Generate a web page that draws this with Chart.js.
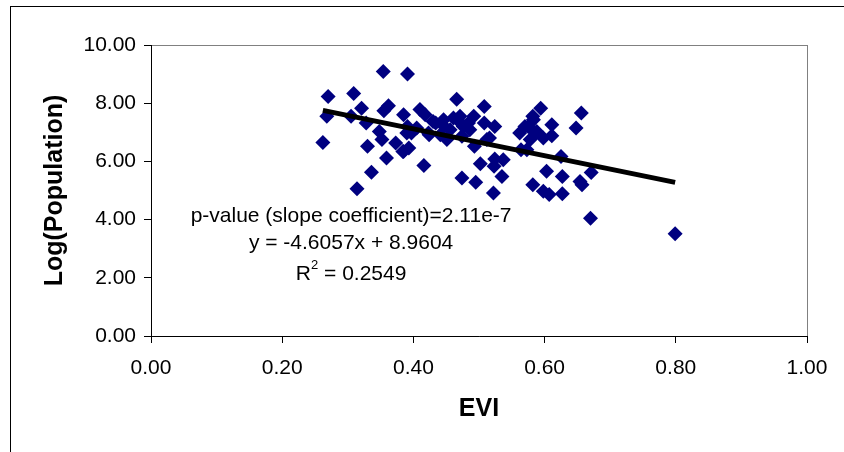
<!DOCTYPE html>
<html>
<head>
<meta charset="utf-8">
<script src="https://cdn.jsdelivr.net/npm/chart.js@4.4.0/dist/chart.umd.min.js"></script>
<style>
  body { margin: 0; background: #ffffff; }
  #wrap { width: 844px; height: 452px; }
</style>
</head>
<body>
<div id="wrap"><canvas id="myChart" width="844" height="452"></canvas></div>
<script>
// datos (EVI vs Log(Population))
var evi = [0.262, 0.268, 0.270, 0.309, 0.305, 0.321, 0.328, 0.330, 0.314, 0.336,
    0.354, 0.362, 0.348, 0.352, 0.359, 0.391, 0.373, 0.384, 0.393, 0.385,
    0.391, 0.397, 0.416, 0.410, 0.418, 0.424, 0.434, 0.447, 0.451, 0.466,
    0.467, 0.474, 0.474, 0.484, 0.492, 0.493, 0.495, 0.508, 0.508, 0.502,
    0.516, 0.524, 0.522, 0.524, 0.523, 0.535, 0.562, 0.564, 0.570, 0.582,
    0.594, 0.586, 0.582, 0.598, 0.603, 0.607, 0.611, 0.611, 0.625, 0.627,
    0.627, 0.648, 0.656, 0.654, 0.657, 0.671, 0.670, 0.799,
    0.355, 0.430, 0.446, 0.461, 0.476, 0.486, 0.456, 0.441, 0.423, 0.405,
    0.390, 0.385, 0.512, 0.583, 0.575, 0.588, 0.598, 0.578, 0.573, 0.537, 0.471];
var logPop = [6.65, 7.55, 8.23, 8.33, 7.55, 7.83, 7.32, 6.52, 5.06, 5.63,
    9.09, 7.91, 7.03, 6.75, 6.12, 9.00, 6.63, 6.34, 6.46, 7.60,
    7.20, 6.98, 5.86, 7.78, 7.60, 6.92, 7.32, 7.20, 6.75, 8.14,
    7.43, 6.86, 5.43, 7.32, 7.55, 6.52, 5.28, 7.89, 7.32, 5.92,
    6.80, 7.20, 4.91, 6.08, 5.83, 5.48, 6.98, 6.40, 7.20, 7.55,
    7.83, 6.98, 5.20, 4.97, 5.66, 4.86, 7.26, 6.88, 6.17, 5.48,
    4.89, 7.15, 7.66, 5.31, 5.20, 5.62, 4.05, 3.51,
    7.74, 7.37, 7.43, 7.49, 7.20, 7.09, 7.09, 6.92, 6.98, 7.15,
    6.98, 6.34, 6.75, 7.43, 7.20, 7.03, 6.80, 6.75, 6.40, 6.06, 7.55];

// linea de tendencia (extremos)
var trendEvi = [0.262, 0.799];
var trendLog = [7.754, 5.280];

// textos de la regresion
var textoReg = ["p-value (slope coefficient)=2.11e-7", "y = -4.6057x + 8.9604", "R", " = 0.2549"];

var puntos = evi.map(function(v, i) { return { x: v, y: logPop[i] }; });
var tendencia = trendEvi.map(function(v, i) { return { x: v, y: trendLog[i] }; });

var fuente = "'Liberation Sans', Arial, sans-serif";

// marco exterior, borde del area y textos
var marcoPlugin = {
    id: 'marco',
    beforeDraw: function(chart) {
        var ctx = chart.ctx;
        var a = chart.chartArea;
        ctx.save();
        ctx.fillStyle = '#ffffff';
        ctx.fillRect(0, 0, chart.width, chart.height);
        ctx.strokeStyle = '#000000';
        ctx.lineWidth = 1;
        ctx.strokeRect(10.5, 6.5, 900, 600);
        ctx.strokeStyle = '#808080';
        ctx.strokeRect(Math.round(a.left) + 0.5, Math.round(a.top) + 0.5, Math.round(a.right - a.left), Math.round(a.bottom - a.top));
        ctx.restore();
    },
    afterDraw: function(chart) {
        var ctx = chart.ctx;
        var xs = chart.scales.x;
        var cx = xs.getPixelForValue(0.305);
        ctx.save();
        ctx.fillStyle = '#000000';
        ctx.textBaseline = 'alphabetic';
        ctx.textAlign = 'center';
        ctx.font = "21px " + fuente;
        ctx.fillText(textoReg[0], cx, 222);
        ctx.fillText(textoReg[1], cx, 249);
        // R^2 con superindice
        var w1 = ctx.measureText(textoReg[2]).width;
        var w3 = ctx.measureText(textoReg[3]).width;
        ctx.font = "13px " + fuente;
        var w2 = ctx.measureText("2").width;
        var x0 = cx - (w1 + w2 + w3) / 2;
        ctx.textAlign = 'left';
        ctx.font = "21px " + fuente;
        ctx.fillText(textoReg[2], x0, 280);
        ctx.font = "13px " + fuente;
        ctx.fillText("2", x0 + w1, 269);
        ctx.font = "21px " + fuente;
        ctx.fillText(textoReg[3], x0 + w1 + w2, 280);
        ctx.restore();
    }
};

var ctx = document.getElementById('myChart').getContext('2d');
var miGrafico = new Chart(ctx, {
    type: 'scatter',
    data: {
        datasets: [{
            type: 'line',
            label: 'tendencia',
            data: tendencia,
            borderColor: '#000000',
            borderWidth: 5,
            pointRadius: 0,
            fill: false,
            order: 0
        }, {
            label: 'Log(Population)',
            data: puntos,
            pointStyle: 'rectRot',
            pointRadius: 7.5,
            pointHoverRadius: 7.5,
            backgroundColor: '#000080',
            borderColor: '#000080',
            borderWidth: 0,
            order: 1
        }]
    },
    options: {
        responsive: false,
        animation: false,
        events: [],
        layout: { padding: { left: 0, top: 45, right: 37, bottom: 0 } },
        plugins: {
            legend: { display: false },
            tooltip: { enabled: false }
        },
        scales: {
            x: {
                type: 'linear',
                min: 0,
                max: 1,
                afterFit: function(s) { s.height = 116; },
                ticks: {
                    stepSize: 0.2,
                    padding: 13,
                    color: '#000000',
                    font: { family: fuente, size: 21 },
                    callback: function(v) { return v.toFixed(2); }
                },
                grid: { drawOnChartArea: false, drawTicks: true, tickLength: 7, color: '#000000' },
                border: { display: true, color: '#000000', width: 1 },
                title: {
                    display: true,
                    text: 'EVI',
                    color: '#000000',
                    font: { family: fuente, size: 25, weight: 'bold' },
                    padding: { top: 0, bottom: 28 }
                }
            },
            y: {
                type: 'linear',
                min: 0,
                max: 10,
                afterFit: function(s) { s.width = 151; },
                ticks: {
                    stepSize: 2,
                    padding: 8,
                    color: '#000000',
                    font: { family: fuente, size: 21 },
                    callback: function(v) { return v.toFixed(2); }
                },
                grid: { drawOnChartArea: false, drawTicks: true, tickLength: 7, color: '#000000' },
                border: { display: true, color: '#000000', width: 1 },
                title: {
                    display: true,
                    text: 'Log(Population)',
                    color: '#000000',
                    font: { family: fuente, size: 25, weight: 'bold' },
                    padding: { top: 40, bottom: 0 }
                }
            }
        }
    },
    plugins: [marcoPlugin]
});
</script>
</body>
</html>
